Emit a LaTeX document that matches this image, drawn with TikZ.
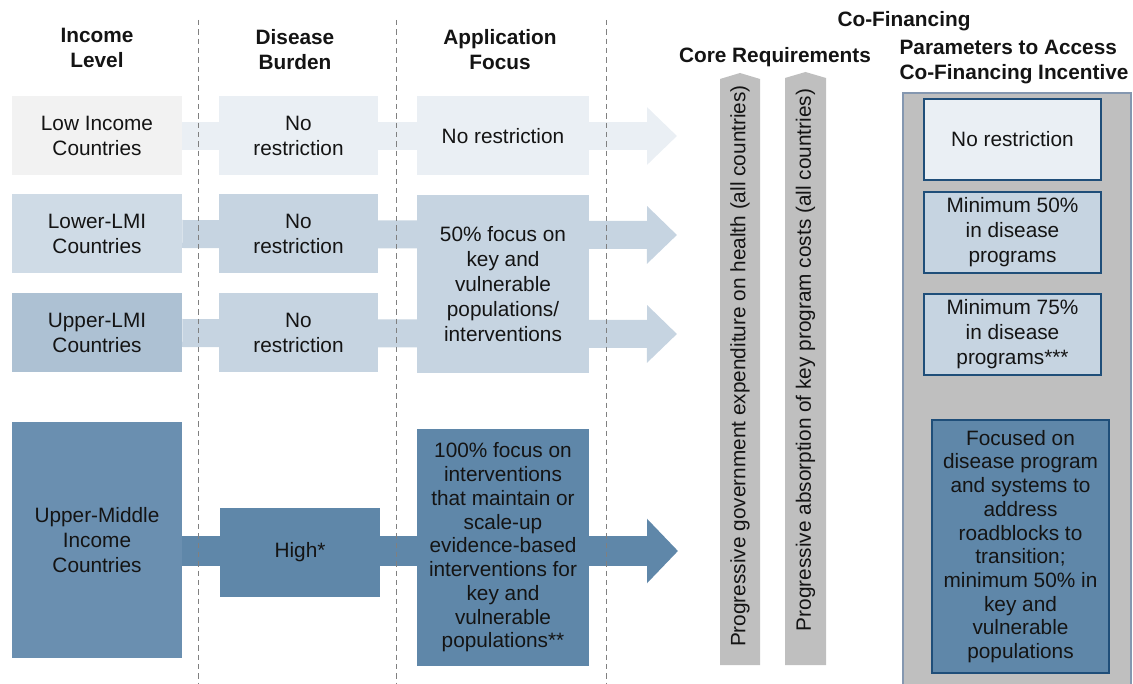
\documentclass[tikz,border=0pt]{standalone}
\usepackage{fontspec}
\setmainfont{Liberation Sans}
\usetikzlibrary{arrows.meta}
\pgfdeclarelayer{bg}
\pgfsetlayers{bg,main}

\definecolor{lowinc}{HTML}{F2F2F2}
\definecolor{rowa}{HTML}{EAEFF4}
\definecolor{lmi}{HTML}{CFDBE6}
\definecolor{rowb}{HTML}{C6D4E1}
\definecolor{ulmi}{HTML}{ADC1D3}
\definecolor{umi}{HTML}{6A8FB0}
\definecolor{rowc}{HTML}{5F87A9}
\definecolor{coreg}{HTML}{BFBFBF}
\definecolor{edge}{HTML}{1F4E79}
\definecolor{panel}{HTML}{8497B0}

\tikzset{
  every node/.style={font=\fontsize{15.6}{18.75}\selectfont, text=black!92, align=center},
  head/.style={font=\fontsize{15.6}{18.75}\selectfont\bfseries},
  tight/.style={font=\fontsize{15.6}{17.8}\selectfont},
  cell/.style={inner sep=0pt, minimum height=59.25pt},
  incbox/.style={cell, minimum width=127.5pt},
  disbox/.style={cell, minimum width=119.25pt},
  appbox/.style={cell, minimum width=129pt},
  parbox/.style={draw=edge, line width=1.5pt, inner sep=0pt, minimum width=132.75pt, minimum height=60.75pt},
  band/.style={line width=21pt},
  sep/.style={draw=black!50, dash pattern=on 4pt off 3pt, line width=0.75pt},
}

\begin{document}
\begin{tikzpicture}[x=0.75pt,y=-0.75pt]
  \useasboundingbox (0,0) rectangle (1133,684);

  % column separators
  \foreach \sx in {198,396,606}
    \draw[sep] (\sx,20) -- (\sx,684);

  % headings
  \node[head] (hinc) at (97,48) {Income\\Level};
  \node[head] (hdis) at (295,50) {Disease\\Burden};
  \node[head] (happ) at (500,50) {Application\\Focus};
  \node[head] (hcof) at (904,21) {Co-Financing};
  \node[head] (hcore) at (775,57) {Core Requirements};
  \node[head, align=left] (hpar) at (1014,62) {Parameters to Access\\Co-Financing Incentive};

  % income level
  \node[incbox, fill=lowinc] (inc1) at (97,136) {Low Income\\Countries};
  \node[incbox, fill=lmi] (inc2) at (97,234) {Lower-LMI\\Countries};
  \node[incbox, fill=ulmi] (inc3) at (97,333) {Upper-LMI\\Countries};
  \node[incbox, fill=umi, minimum height=177pt] (inc4) at (97,540) {Upper-Middle\\Income\\Countries};

  % disease burden
  \node[disbox, fill=rowa] (dis1) at (298.5,136) {No\\restriction};
  \node[disbox, fill=rowb] (dis2) at (298.5,234) {No\\restriction};
  \node[disbox, fill=rowb] (dis3) at (298.5,333) {No\\restriction};
  \node[disbox, fill=rowc, minimum width=120pt, minimum height=66.75pt] (dis4) at (300,552.5) {High*};

  % application focus
  \node[appbox, fill=rowa] (app1) at (503,136) {No restriction};
  \node[appbox, fill=rowb, minimum height=133.5pt] (app23) at (503,284)
    {50\% focus on\\key and\\vulnerable\\populations/\\interventions};
  \node[appbox, fill=rowc, minimum height=177.75pt, tight] (app4) at (503,547.5)
    {100\% focus on\\interventions\\that maintain or\\scale-up\\evidence-based\\interventions for\\key and\\vulnerable\\populations**};

  % row arrows
  \coordinate (tip1) at (677,136);
  \coordinate (tip2) at (677,235);
  \coordinate (tip3) at (677,334);
  \coordinate (tip4) at (678,551);
  \begin{pgfonlayer}{bg}
    \draw[band, rowa, -{Triangle[length=22.5pt,width=42pt]}] (inc1.east) -- (tip1);
    \draw[band, rowb, -{Triangle[length=22.5pt,width=42pt]}] (inc2.east) -- (tip2);
    \draw[band, rowb, -{Triangle[length=22.5pt,width=42pt]}] (inc3.east) -- (tip3);
    \draw[band, rowc, line width=23pt, -{Triangle[length=23.25pt,width=47pt]}] (tip4 -| inc4.east) -- (tip4);
  \end{pgfonlayer}

  % core requirements
  \fill[coreg] (720,665) -- (720,79) -- (740,73) -- (760,79) -- (760,665) -- cycle;
  \node[rotate=90] (req1) at (740,366) {Progressive government expenditure on health (all countries)};
  \fill[coreg] (785,665) -- (785,78) -- (805.5,72) -- (826,78) -- (826,665) -- cycle;
  \node[rotate=90] (req2) at (805.5,360) {Progressive absorption of key program costs (all countries)};

  % incentive parameters
  \filldraw[fill=coreg, draw=panel, line width=1.2pt] (903,93) rectangle (1131,690);
  \node[parbox, fill=rowa] (par1) at (1012.5,139.5) {No restriction};
  \node[parbox, fill=rowb] (par2) at (1012.5,232.5) {Minimum 50\%\\in disease\\programs};
  \node[parbox, fill=rowb] (par3) at (1012.5,334.5) {Minimum 75\%\\in disease\\programs***};
  \node[parbox, fill=rowc, minimum height=189.75pt, tight] (par4) at (1020.5,546.5)
    {Focused on\\disease program\\and systems to\\address\\roadblocks to\\transition;\\minimum 50\% in\\key and\\vulnerable\\populations};
\end{tikzpicture}
\end{document}
